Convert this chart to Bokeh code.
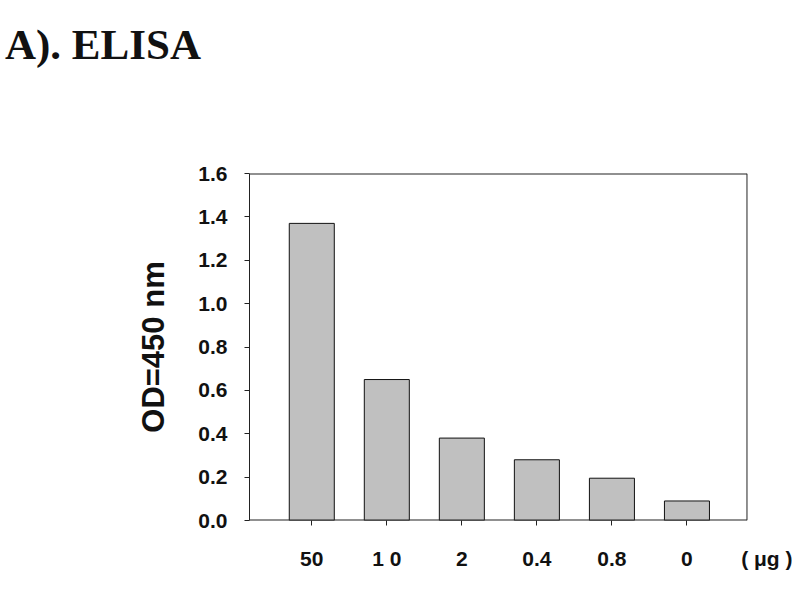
from bokeh.plotting import figure
from bokeh.layouts import column
from bokeh.models import Range1d, FixedTicker, PrintfTickFormatter, Div
from bokeh.embed import file_html
from bokeh.resources import INLINE

# OD at 450 nm for each antigen amount
doses = ["50", "1 0", "2", "0.4", "0.8", "0"]
od450 = [1.37, 0.65, 0.38, 0.28, 0.195, 0.09]
y_ticks = [0.0, 0.2, 0.4, 0.6, 0.8, 1.0, 1.2, 1.4, 1.6]
unit_text = "( \u03bcg )"
panel_title = "A). ELISA"

xs = list(range(len(doses)))
x_lo, x_box, x_hi = -0.83, 5.8, 6.38   # frame runs past the box so the unit fits
unit_x = 6.07
y_top = y_ticks[-1]

head = Div(text=panel_title, width=792, height=90,
           styles={"font-family": "Liberation Serif", "font-weight": "bold",
                   "font-size": "43px", "line-height": "43px", "color": "#111111",
                   "padding-top": "18px", "padding-left": "0px"})

p = figure(width=792, height=492, output_backend="svg", toolbar_location=None, tools="",
           x_range=Range1d(x_lo, x_hi), y_range=Range1d(0, y_top))
p.min_border_left = 249
p.min_border_right = 2
p.min_border_top = 73
p.min_border_bottom = 72
p.outline_line_color = None
p.xgrid.grid_line_color = None
p.ygrid.grid_line_color = None

p.vbar(x=xs, top=od450, width=0.6, fill_color="#c0c0c0", line_color="#111111", line_width=1)

# box: bottom, top and right edges
p.segment(x0=[x_lo, x_lo, x_box], y0=[0, y_top, 0], x1=[x_box, x_box, x_box], y1=[0, y_top, y_top],
          line_color="#222222", line_width=[2, 2, 1])

# labels (doses + unit) as major ticks, tick marks only at the doses as minor ticks
p.xaxis.ticker = FixedTicker(ticks=xs + [unit_x], minor_ticks=xs)
p.xaxis.major_label_overrides = {**{i: d for i, d in zip(xs, doses)}, unit_x: unit_text}
p.xaxis.axis_line_color = None
p.xaxis.major_tick_line_color = None
p.xaxis.major_tick_out = 0
p.xaxis.major_tick_in = 0
p.xaxis.minor_tick_line_color = "#222222"
p.xaxis.minor_tick_out = 5
p.xaxis.minor_tick_in = 0
p.xaxis.major_label_standoff = 21
p.xaxis.major_label_text_font = "Liberation Sans"
p.xaxis.major_label_text_font_style = "bold"
p.xaxis.major_label_text_font_size = "21px"
p.xaxis.major_label_text_color = "#111111"

p.yaxis.ticker = FixedTicker(ticks=y_ticks)
p.yaxis.formatter = PrintfTickFormatter(format="%.1f")
p.yaxis.axis_line_color = "#222222"
p.yaxis.major_tick_line_color = "#222222"
p.yaxis.major_tick_out = 5
p.yaxis.major_tick_in = 0
p.yaxis.minor_tick_line_color = None
p.yaxis.major_label_text_font = "Liberation Sans"
p.yaxis.major_label_text_font_style = "bold"
p.yaxis.major_label_text_font_size = "21px"
p.yaxis.major_label_text_color = "#111111"
p.yaxis.major_label_standoff = 17

p.yaxis.axis_label = "OD=450 nm"
p.yaxis.axis_label_text_font = "Liberation Sans"
p.yaxis.axis_label_text_font_style = "bold"
p.yaxis.axis_label_text_font_size = "31px"
p.yaxis.axis_label_text_color = "#111111"
p.yaxis.axis_label_standoff = 24

layout = column(head, p, spacing=0)

open("out.html", "w").write(file_html(layout, INLINE))
